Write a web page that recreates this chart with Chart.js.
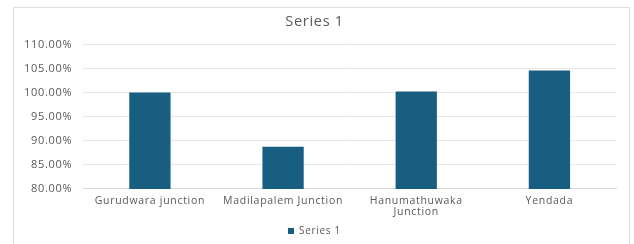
<!DOCTYPE html>
<html>
<head>
<meta charset="utf-8">
<script src="https://cdn.jsdelivr.net/npm/chart.js@4/dist/chart.umd.min.js"></script>
<style>
html,body{margin:0;padding:0;background:#fff;}
#wrap{position:relative;width:634px;height:244px;}
#frame{position:absolute;left:13px;top:7px;width:617px;height:240px;border:1px solid #e0e0e0;box-sizing:border-box;}
canvas{position:absolute;left:0;top:0;}
</style>
</head>
<body>
<div id="wrap"><div id="frame"></div><canvas id="c" width="634" height="244"></canvas></div>
<script>
const categories = ["Gurudwara junction", "Madilapalem Junction", ["Hanumathuwaka", "Junction"], "Yendada"];
const series1 = [1.0, 0.8875, 1.002, 1.0458];
const yTicks = [0.80, 0.85, 0.90, 0.95, 1.00, 1.05, 1.10];

const textColor = '#595959';
const fontFam = '"Open Sans", sans-serif';

const spacingPlugin = {
  id: 'spacing',
  beforeUpdate(chart) { chart.ctx.letterSpacing = '0.7px'; },
  beforeLayout(chart) { chart.ctx.letterSpacing = '0.7px'; },
  beforeDraw(chart) { chart.ctx.letterSpacing = '0.7px'; }
};

new Chart(document.getElementById('c'), {
  type: 'bar',
  plugins: [spacingPlugin],
  data: {
    labels: categories,
    datasets: [{
      label: 'Series 1',
      data: series1,
      backgroundColor: '#175E80',
      categoryPercentage: 1.0,
      barPercentage: 0.31
    }]
  },
  options: {
    responsive: false,
    animation: false,
    devicePixelRatio: 1,
    layout: { padding: { left: 13, right: 18, top: 9, bottom: -2 } },
    plugins: {
      title: {
        display: true,
        text: 'Series 1',
        color: textColor,
        font: { family: fontFam, size: 14.5, weight: 'normal' },
        padding: { top: 4, bottom: 14 }
      },
      legend: {
        position: 'bottom',
        labels: {
          color: textColor,
          font: { family: fontFam, size: 10 },
          boxWidth: 6,
          boxHeight: 6,
          padding: 1
        }
      },
      tooltip: { enabled: false }
    },
    scales: {
      x: {
        grid: { display: false, drawTicks: false },
        border: { display: true, color: '#d9d9d9' },
        ticks: {
          color: textColor,
          font: { family: fontFam, size: 10.5, lineHeight: 1.05 },
          maxRotation: 0,
          autoSkip: false,
          padding: 7
        }
      },
      y: {
        min: 0.80,
        max: 1.10,
        afterBuildTicks: (axis) => { axis.ticks = yTicks.map(v => ({ value: v })); },
        grid: { color: '#e6e6e6', drawTicks: false },
        border: { display: false },
        ticks: {
          color: textColor,
          font: { family: fontFam, size: 11 },
          padding: 11,
          callback: (v) => (v * 100).toFixed(2) + '%'
        }
      }
    }
  }
});
</script>
</body>
</html>
